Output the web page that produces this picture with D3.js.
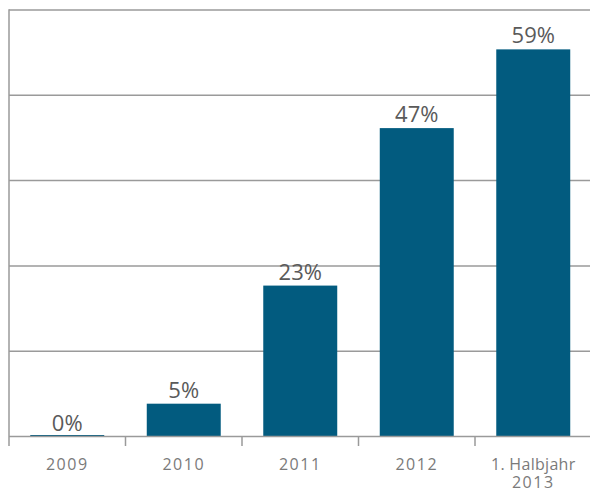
<!DOCTYPE html>
<html><head><meta charset="utf-8">
<script src="https://cdn.jsdelivr.net/npm/d3@7"></script>
<style>html,body{margin:0;padding:0;background:#fff;}svg{display:block;}</style>
</head><body>
<script>
const categories = ["2009", "2010", "2011", "2012", "1. Halbjahr\n2013"];
const values = [0, 5, 23, 47, 59];
const valueLabels = ["0%", "5%", "23%", "47%", "59%"];
const gridTicks = [0, 13, 26, 39, 52, 65];

const W = 590, H = 492;
const svg = d3.select("body").append("svg").attr("width", W).attr("height", H);

const x = d3.scaleBand().domain(categories).range([9, 591.5]).paddingInner(0.365).paddingOuter(0.1825);
const y = d3.scaleLinear().domain([0, 65]).range([436.5, 10]);

// gridlines
svg.append("g").selectAll("line").data(gridTicks.slice(1)).join("line")
  .attr("x1", 9).attr("x2", W).attr("y1", d => y(d)).attr("y2", d => y(d))
  .attr("stroke", "#9a9a9a").attr("stroke-width", 1.5);

// left axis line
svg.append("line").attr("x1", 9).attr("x2", 9).attr("y1", y(65) - 0.75).attr("y2", y(0) + 9.5)
  .attr("stroke", "#9a9a9a").attr("stroke-width", 1.5);

// bars
svg.append("g").selectAll("rect").data(values).join("rect")
  .attr("x", (d, i) => x(categories[i]))
  .attr("width", x.bandwidth())
  .attr("y", d => d === 0 ? y(0) - 1.5 : y(d))
  .attr("height", d => d === 0 ? 1.5 : y(0) - y(d))
  .attr("fill", "#025b7f");

// bottom axis
const xAxis = d3.axisBottom(x).tickSize(0).tickFormat("");
const gx = svg.append("g").attr("transform", `translate(0,${y(0)})`).call(xAxis);
gx.select(".domain").attr("stroke", "#9a9a9a").attr("stroke-width", 1.5).attr("d", `M9,0H${W}`);
const step = x.step();
const bounds = d3.range(1, categories.length).map(i => x(categories[i]) - (step - x.bandwidth()) / 2);
gx.selectAll("line.sep").data(bounds).join("line").attr("class", "sep")
  .attr("x1", d => d).attr("x2", d => d).attr("y1", 0).attr("y2", 9.5)
  .attr("stroke", "#9a9a9a").attr("stroke-width", 1.5);

// category labels
const labG = svg.append("g").attr("font-family", "'Open Sans', sans-serif").attr("font-size", 16).attr("fill", "#7a7a7a").attr("text-anchor", "middle");
categories.forEach(c => {
  c.split("\n").forEach((line, j) => {
    labG.append("text")
      .attr("x", x(c) + x.bandwidth() / 2)
      .attr("y", j === 0 ? 470 : 488)
      .attr("letter-spacing", /^\d+$/.test(line) ? 1.5 : 0.3)
      .text(line);
  });
});

// value labels
svg.append("g").selectAll("text").data(values).join("text")
  .attr("x", (d, i) => x(categories[i]) + x.bandwidth() / 2)
  .attr("y", d => y(d) - 6)
  .attr("text-anchor", "middle")
  .attr("font-family", "'Open Sans', sans-serif").attr("font-size", 22)
  .attr("fill", "#5a5a5a")
  .text((d, i) => valueLabels[i]);
</script>
</body></html>
